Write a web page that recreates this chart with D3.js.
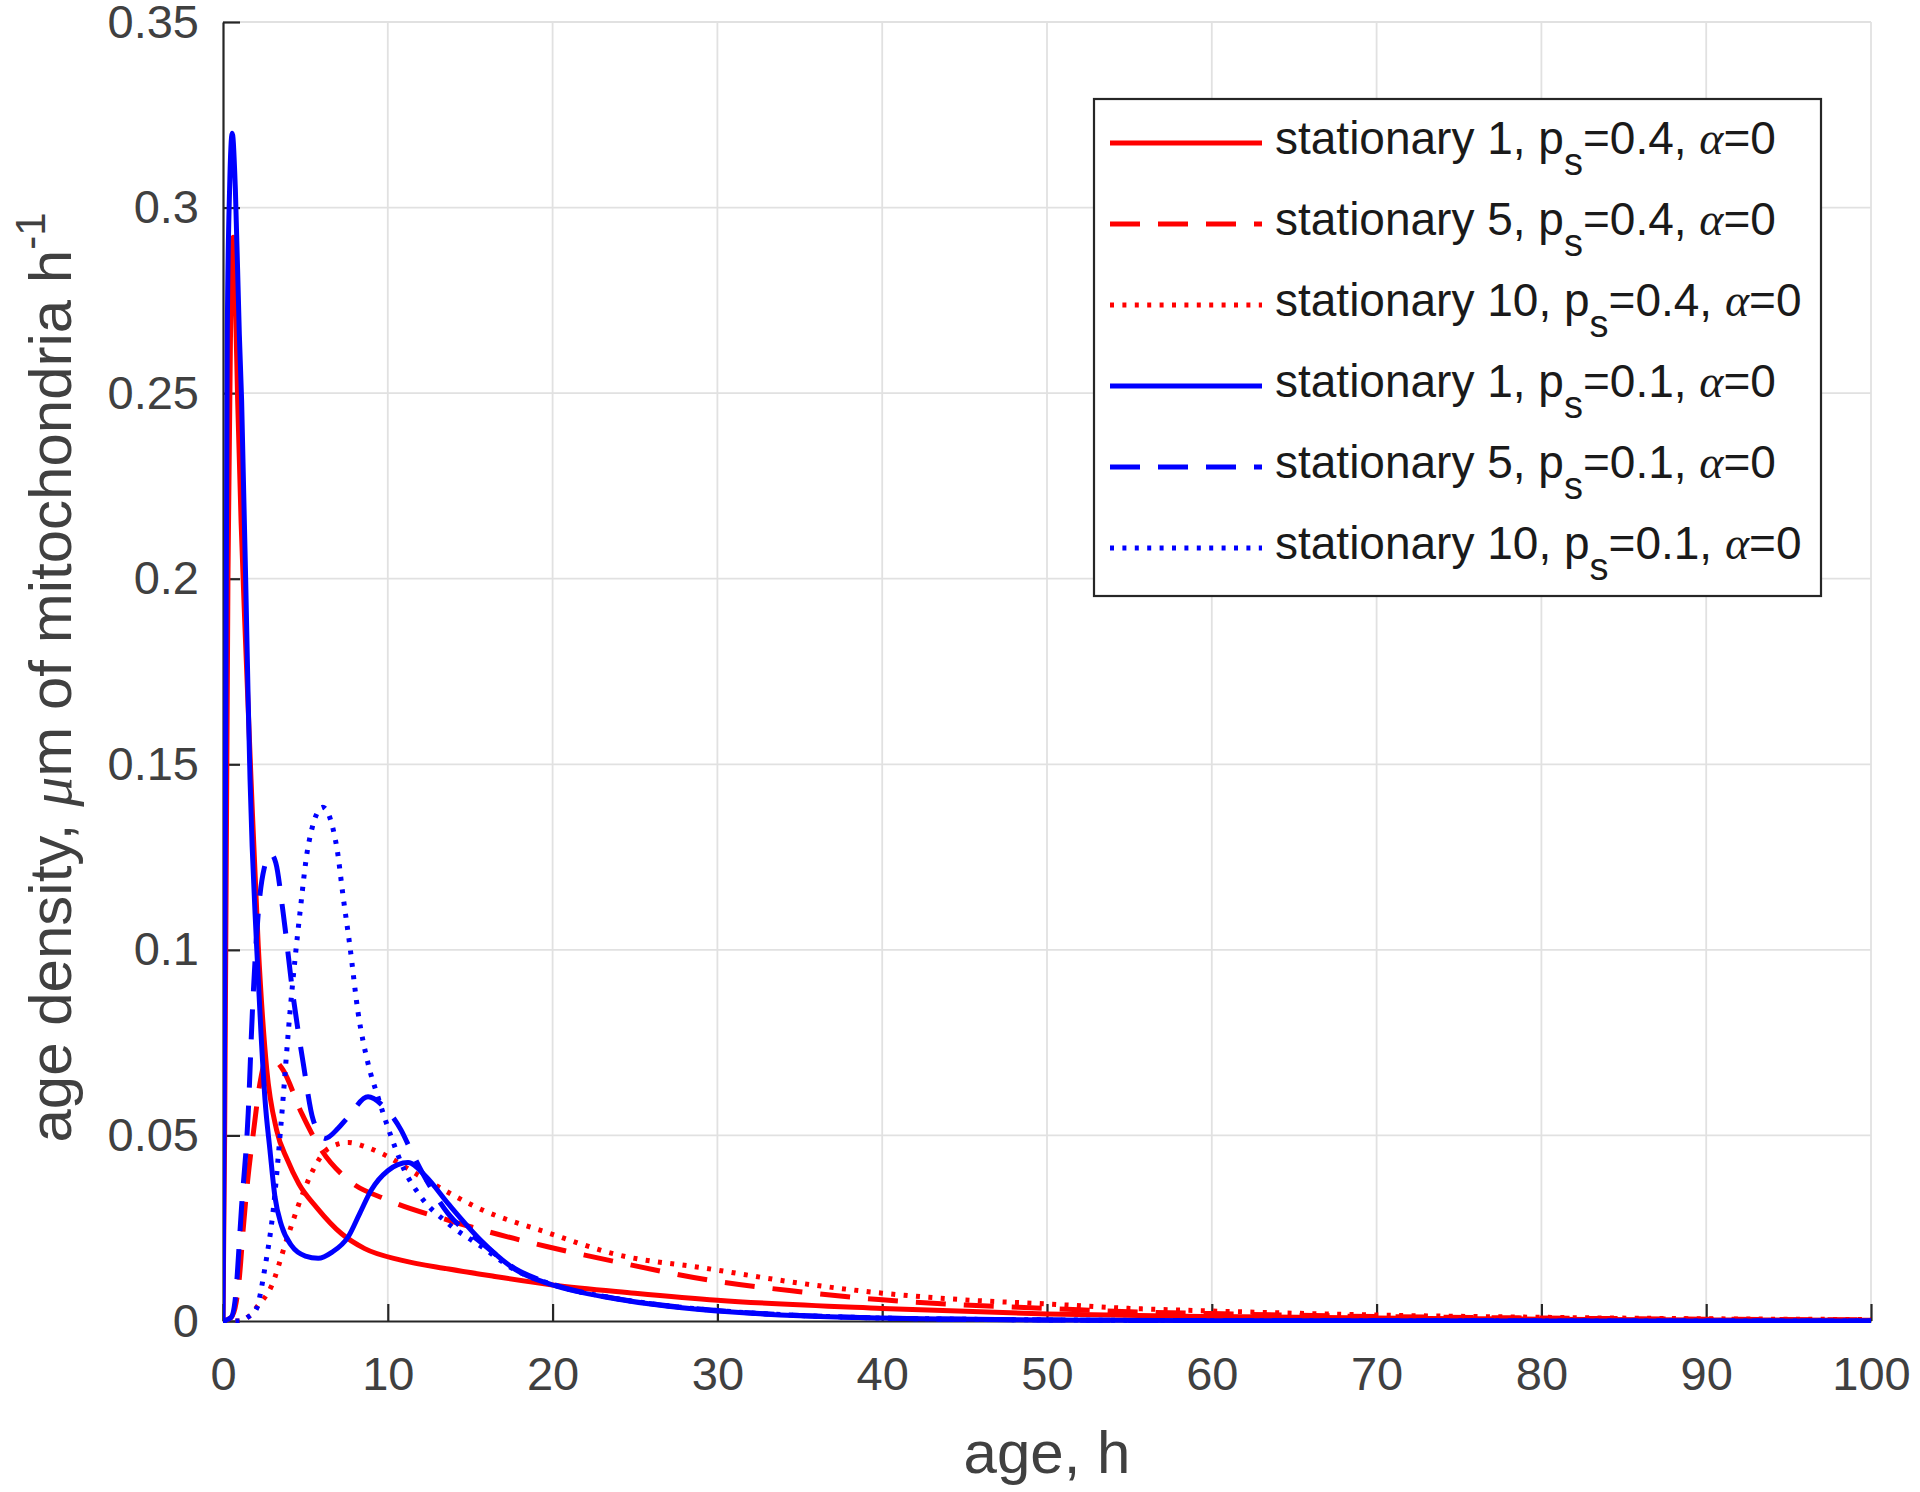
<!DOCTYPE html>
<html><head><meta charset="utf-8">
<script src="https://cdn.jsdelivr.net/npm/d3@7/dist/d3.min.js"></script>
<style>body{margin:0;background:#fff}svg{display:block}</style>
</head><body>
<svg id="chart" width="1920" height="1492"></svg>
<script>
// ---- data (age in h, density) ----
const xTicks = [0,10,20,30,40,50,60,70,80,90,100];
const yTicks = [0,0.05,0.1,0.15,0.2,0.25,0.3,0.35];
const yTickLabels = ["0","0.05","0.1","0.15","0.2","0.25","0.3","0.35"];

const red1 = [[0,0],[0.1,0.05],[0.3,0.2],[0.5,0.285],[0.62,0.292],[0.75,0.275],[0.89,0.248],[1.1,0.215],[1.35,0.185],[1.7,0.146],[2.14,0.101],[2.65,0.068],[3.25,0.0515],[3.9,0.0435],[4.6,0.037],[5.7,0.0305],[7.2,0.0235],[8.6,0.0195],[10.8,0.0164],[13.7,0.0140],[16.5,0.0120],[20,0.0097],[25,0.0075],[30,0.0056],[40,0.0034],[50,0.0019],[60,0.0012],[70,0.0008],[80,0.0005],[90,0.0003],[100,0.0002]];
const red5 = [[0,0],[0.5,0.001],[0.8,0.005],[1.0,0.012],[1.23,0.025],[1.5,0.038],[1.85,0.051],[2.24,0.064],[2.7,0.0712],[3.1,0.0705],[3.65,0.0676],[4.77,0.056],[5.98,0.046],[7.6,0.038],[10,0.0326],[13.65,0.0272],[19.7,0.020],[23.8,0.016],[29.5,0.011],[35,0.0079],[40,0.0057],[45,0.0043],[50,0.0034],[55,0.0025],[60,0.002],[70,0.0012],[80,0.0008],[90,0.0005],[100,0.0003]];
const red10 = [[0,0],[1.0,0],[1.5,0.001],[2.1,0.004],[2.95,0.0095],[3.8,0.021],[4.77,0.0335],[5.5,0.041],[6.4,0.0465],[7.6,0.0481],[8.6,0.047],[9.6,0.0452],[12,0.0389],[15.7,0.030],[19.7,0.0238],[23.8,0.018],[29.3,0.0142],[35,0.0102],[40,0.0075],[45,0.0057],[50,0.0046],[55,0.0034],[60,0.0027],[70,0.0016],[80,0.001],[90,0.0006],[100,0.0004]];
const blue1 = [[0,0],[0.1,0.08],[0.26,0.266],[0.4,0.305],[0.56,0.32],[0.75,0.305],[0.99,0.266],[1.13,0.248],[1.53,0.167],[1.64,0.146],[2.04,0.101],[2.3,0.078],[2.55,0.0596],[2.85,0.046],[3.15,0.0335],[3.56,0.0256],[4.16,0.0203],[5.0,0.0175],[5.78,0.0169],[6.6,0.0185],[7.6,0.0227],[8.3,0.029],[9.0,0.0353],[10.0,0.0405],[11.23,0.0427],[12.3,0.039],[13.65,0.0317],[15.7,0.0215],[17.7,0.0140],[20,0.0097],[23.8,0.0060],[27,0.0040],[30.9,0.0024],[35,0.0014],[40,0.0008],[50,0.0003],[60,0.0001],[70,0.00005],[100,0]];
const blue5 = [[0,0],[0.5,0.001],[0.73,0.0054],[1.13,0.031],[1.53,0.056],[1.78,0.083],[2.14,0.110],[2.5,0.122],[2.9,0.1258],[3.2,0.1235],[3.65,0.110],[4.26,0.0874],[4.87,0.0694],[5.47,0.0542],[6.2,0.0492],[7.0,0.052],[7.6,0.055],[8.8,0.0604],[9.7,0.058],[10.8,0.0515],[11.4,0.046],[12.6,0.036],[13.65,0.029],[15.7,0.021],[17.7,0.0142],[20,0.0099],[23.8,0.0061],[27,0.0041],[30.9,0.0025],[35,0.0015],[40,0.0008],[50,0.0003],[60,0.0001],[100,0]];
const blue10 = [[0,0],[1.0,0],[1.5,0.001],[2.0,0.003],[2.55,0.0145],[3.05,0.030],[3.5,0.052],[4.06,0.083],[4.67,0.110],[5.17,0.128],[6.05,0.1384],[6.89,0.128],[7.3,0.114],[7.7,0.101],[8.2,0.083],[8.8,0.0694],[9.4,0.0604],[10.2,0.0497],[11.0,0.0407],[12.0,0.0335],[13.65,0.0263],[15.7,0.020],[17.7,0.0138],[20,0.0098],[23.8,0.0061],[27,0.0041],[30.9,0.0025],[35,0.0015],[40,0.0008],[50,0.0003],[60,0.0001],[100,0]];

const seriesNames = ["stationary 1","stationary 5","stationary 10","stationary 1","stationary 5","stationary 10"];
const seriesPs = ["0.4","0.4","0.4","0.1","0.1","0.1"];
const seriesData = [red1, red5, red10, blue1, blue5, blue10];
const seriesColors = ["#ff0000","#ff0000","#ff0000","#0000ff","#0000ff","#0000ff"];
const seriesDash = [null,"30,18","4,8.4",null,"30,18","4,8.4"];

// ---- layout ----
const svg = d3.select("#chart");
const L = 223, R = 1871, T = 22, B = 1321;
const x = d3.scaleLinear().domain([0,100]).range([L,R]);
const y = d3.scaleLinear().domain([0,0.35]).range([B,T]);
const axisColor = "#262626", textColor = "#404040";
const font = "'Liberation Sans', Arial, Helvetica, sans-serif";
const serif = "'Liberation Serif','Times New Roman',serif";

svg.append("rect").attr("width",1920).attr("height",1492).attr("fill","#fff");

// grid
const grid = svg.append("g").attr("stroke","#e1e1e1").attr("stroke-width",1.8);
grid.selectAll("line.gx").data(xTicks.slice(1)).join("line")
  .attr("x1",d=>x(d)).attr("x2",d=>x(d)).attr("y1",T).attr("y2",B);
grid.selectAll("line.gy").data(yTicks.slice(1)).join("line")
  .attr("y1",d=>y(d)).attr("y2",d=>y(d)).attr("x1",L).attr("x2",R);

// axes (inward ticks)
const xAxis = d3.axisBottom(x).tickValues(xTicks).tickSizeInner(-17).tickSizeOuter(0).tickPadding(36);
const gx = svg.append("g").attr("transform",`translate(0,${B})`).call(xAxis);
gx.select(".domain").attr("stroke",axisColor).attr("stroke-width",2.2);
gx.selectAll(".tick line").attr("stroke",axisColor).attr("stroke-width",2.2);
gx.selectAll(".tick text").attr("fill",textColor).attr("font-family",font).attr("font-size",47).attr("dy","0.71em");

const yAxis = d3.axisLeft(y).tickValues(yTicks).tickFormat((d,i)=>yTickLabels[i]).tickSizeInner(-17).tickSizeOuter(0).tickPadding(24);
const gy = svg.append("g").attr("transform",`translate(${L},0)`).call(yAxis);
gy.select(".domain").attr("stroke",axisColor).attr("stroke-width",2.2);
gy.selectAll(".tick line").attr("stroke",axisColor).attr("stroke-width",2.2);
gy.selectAll(".tick text").attr("fill",textColor).attr("font-family",font).attr("font-size",47);

// clip
svg.append("clipPath").attr("id","clip").append("rect").attr("x",L).attr("y",T-10).attr("width",R-L+3).attr("height",B-T+12);

const line = d3.line().x(d=>x(d[0])).y(d=>y(d[1])).curve(d3.curveMonotoneX);
const lines = svg.append("g").attr("clip-path","url(#clip)");
lines.selectAll("path").data(seriesData).join("path")
  .attr("d",line).attr("fill","none")
  .attr("stroke",(d,i)=>seriesColors[i])
  .attr("stroke-width",5)
  .attr("stroke-linejoin","round")
  .attr("stroke-dasharray",(d,i)=>seriesDash[i]);

// axis labels
svg.append("text").attr("x",(L+R)/2).attr("y",1473).attr("text-anchor","middle")
  .attr("font-family",font).attr("font-size",60).attr("fill",textColor).text("age, h");

const yl = svg.append("text").attr("transform",`translate(71,${(T+B)/2+6}) rotate(-90)`).attr("text-anchor","middle")
  .attr("font-family",font).attr("font-size",60).attr("fill",textColor);
yl.append("tspan").text("age density, ");
yl.append("tspan").attr("font-family",serif).attr("font-style","italic").text("μ");
yl.append("tspan").text("m of mitochondria h");
yl.append("tspan").attr("font-size",42).attr("dy",-26).text("-1");

// legend
const lg = svg.append("g");
lg.append("rect").attr("x",1094).attr("y",99).attr("width",727).attr("height",497)
  .attr("fill","#fff").attr("stroke",axisColor).attr("stroke-width",2.2);
const rowY = i => 143 + i*81;
const rows = lg.selectAll("g.row").data(seriesData).join("g").attr("class","row");
rows.append("line").attr("x1",1110).attr("x2",1262).attr("y1",(d,i)=>rowY(i)).attr("y2",(d,i)=>rowY(i))
  .attr("stroke",(d,i)=>seriesColors[i]).attr("stroke-width",5).attr("stroke-dasharray",(d,i)=>seriesDash[i]);
const lt = rows.append("text").attr("x",1275).attr("y",(d,i)=>rowY(i)+11)
  .attr("font-family",font).attr("font-size",46).attr("fill","#1a1a1a");
lt.append("tspan").text((d,i)=>`${seriesNames[i]}, p`);
lt.append("tspan").attr("font-size",38).attr("dy",21).text("s");
lt.append("tspan").attr("dy",-21).text((d,i)=>`=${seriesPs[i]}, `);
lt.append("tspan").attr("font-family",serif).attr("font-style","italic").text("α");
lt.append("tspan").text("=0");
</script>
</body></html>
